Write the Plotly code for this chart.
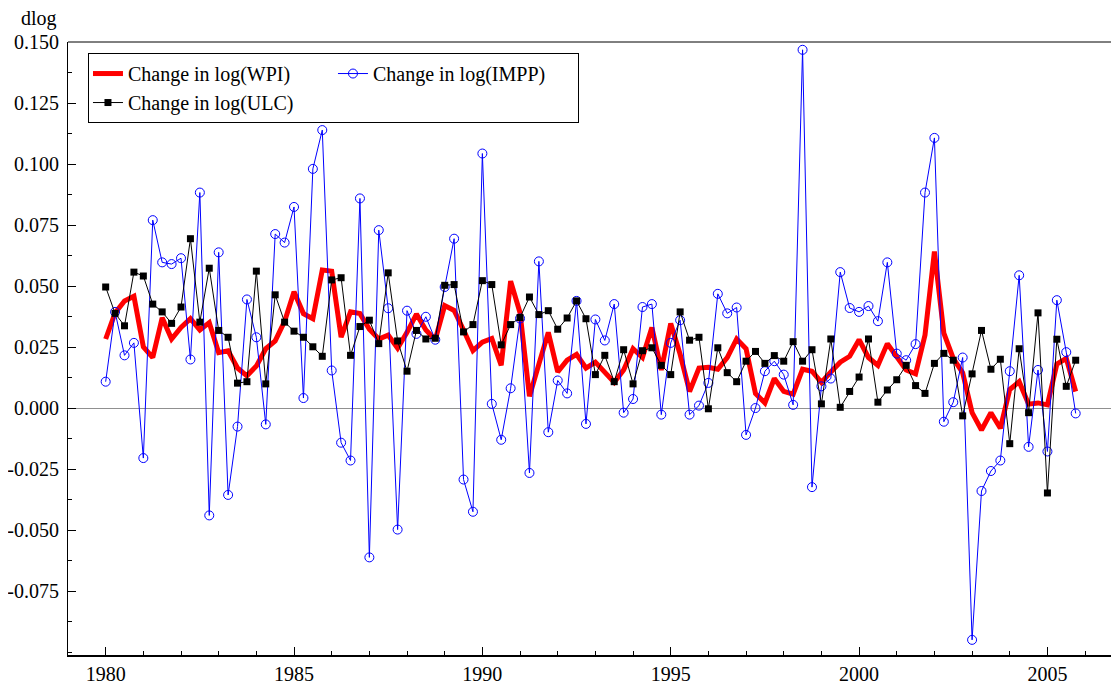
import numpy as np
import plotly.graph_objects as go

start_year = 1980
n_quarters = 104
years = start_year + np.arange(n_quarters) / 4.0

wpi = [0.0283, 0.0390, 0.0439, 0.0458, 0.0251, 0.0207, 0.0370, 0.0283, 0.0330, 0.0366,
       0.0320, 0.0350, 0.0227, 0.0235, 0.0164, 0.0132, 0.0172, 0.0243, 0.0275, 0.0355,
       0.0477, 0.0387, 0.0366, 0.0566, 0.0561, 0.0291, 0.0394, 0.0387, 0.0323, 0.0283,
       0.0299, 0.0245, 0.0310, 0.0385, 0.0320, 0.0280, 0.0420, 0.0400, 0.0320, 0.0235,
       0.0270, 0.0285, 0.0175, 0.0520, 0.0390, 0.0048, 0.0180, 0.0310, 0.0148, 0.0196,
       0.0220, 0.0164, 0.0188, 0.0148, 0.0105, 0.0156, 0.0243, 0.0207, 0.0330, 0.0156,
       0.0347, 0.0220, 0.0068, 0.0164, 0.0167, 0.0159, 0.0207, 0.0283, 0.0243, 0.0060,
       0.0021, 0.0121, 0.0068, 0.0057, 0.0159, 0.0151, 0.0105, 0.0148, 0.0188, 0.0212,
       0.0280, 0.0207, 0.0175, 0.0264, 0.0212, 0.0156, 0.0140, 0.0299, 0.0641, 0.0307,
       0.0204, 0.0145, -0.0019, -0.0090, -0.0019, -0.0083, 0.0076, 0.0108, 0.0016, 0.0021,
       0.0013, 0.0180, 0.0204, 0.0068]

impp = [0.0108, 0.0394, 0.0216, 0.0267, -0.0205, 0.0770, 0.0597, 0.0590, 0.0614, 0.0199,
        0.0883, -0.0440, 0.0638, -0.0356, -0.0076, 0.0445, 0.0290, -0.0067, 0.0713, 0.0678,
        0.0824, 0.0041, 0.0980, 0.1139, 0.0154, -0.0142, -0.0215, 0.0859, -0.0612, 0.0729,
        0.0409, -0.0498, 0.0399, 0.0304, 0.0374, 0.0280, 0.0496, 0.0694, -0.0293, -0.0425,
        0.1043, 0.0017, -0.0130, 0.0081, 0.0367, -0.0266, 0.0601, -0.0099, 0.0113, 0.0060,
        0.0439, -0.0065, 0.0363, 0.0277, 0.0426, -0.0019, 0.0037, 0.0414, 0.0426, -0.0027,
        0.0267, 0.0360, -0.0027, 0.0010, 0.0103, 0.0468, 0.0388, 0.0412, -0.0110, 0.0000,
        0.0151, 0.0192, 0.0137, 0.0013, 0.1468, -0.0324, 0.0089, 0.0121, 0.0557, 0.0410,
        0.0394, 0.0418, 0.0356, 0.0597, 0.0223, 0.0196, 0.0262, 0.0883, 0.1107, -0.0056,
        0.0024, 0.0207, -0.0950, -0.0340, -0.0258, -0.0215, 0.0151, 0.0544, -0.0159, 0.0156,
        -0.0178, 0.0442, 0.0229, -0.0022]

ulc = [0.0496, 0.0388, 0.0337, 0.0557, 0.0541, 0.0426, 0.0394, 0.0347, 0.0414, 0.0694,
       0.0352, 0.0573, 0.0318, 0.0290, 0.0102, 0.0108, 0.0561, 0.0099, 0.0464, 0.0352,
       0.0315, 0.0290, 0.0251, 0.0212, 0.0525, 0.0534, 0.0216, 0.0334, 0.0360, 0.0264,
       0.0554, 0.0275, 0.0151, 0.0318, 0.0283, 0.0286, 0.0503, 0.0506, 0.0312, 0.0342,
       0.0522, 0.0506, 0.0259, 0.0342, 0.0371, 0.0455, 0.0383, 0.0399, 0.0323, 0.0369,
       0.0439, 0.0366, 0.0137, 0.0216, 0.0108, 0.0239, 0.0099, 0.0235, 0.0247, 0.0175,
       0.0137, 0.0394, 0.0278, 0.0290, -0.0003, 0.0247, 0.0145, 0.0108, 0.0192, 0.0232,
       0.0183, 0.0215, 0.0192, 0.0272, 0.0192, 0.0239, 0.0017, 0.0283, 0.0003, 0.0068,
       0.0127, 0.0283, 0.0024, 0.0074, 0.0116, 0.0175, 0.0092, 0.0060, 0.0183, 0.0224,
       0.0196, -0.0032, 0.0140, 0.0318, 0.0159, 0.0200, -0.0146, 0.0243, -0.0019, 0.0390,
       -0.0348, 0.0282, 0.0089, 0.0196]

x_tickvals = [1980, 1985, 1990, 1995, 2000, 2005]
y_tickvals = [-0.075, -0.05, -0.025, 0.0, 0.025, 0.05, 0.075, 0.1, 0.125, 0.15]
y_ticktext = ["-0.075", "-0.050", "-0.025", "0.000", "0.025", "0.050", "0.075", "0.100", "0.125", "0.150"]

FONT = "Liberation Serif, Times New Roman, serif"

fig = go.Figure()
fig.add_trace(go.Scatter(x=years, y=wpi, mode="lines", name="Change in log(WPI)",
                         legendgroup="a", line=dict(color="#ff0000", width=5)))
fig.add_trace(go.Scatter(x=years, y=impp, mode="lines+markers", name="Change in log(IMPP)",
                         legendgroup="b", line=dict(color="#0000ff", width=1),
                         marker=dict(symbol="circle-open", size=9, color="#0000ff",
                                     line=dict(width=1, color="#0000ff"))))
fig.add_trace(go.Scatter(x=years, y=ulc, mode="lines+markers", name="Change in log(ULC)",
                         legendgroup="a", line=dict(color="#000000", width=1),
                         marker=dict(symbol="square", size=7, color="#000000")))

# page body has an 8px margin, so the figure is 8px smaller than the window
fig.update_layout(
    width=1111, height=676,
    margin=dict(l=60, r=0, t=34, b=29, autoexpand=False),
    paper_bgcolor="white", plot_bgcolor="white",
    font=dict(family=FONT, size=20, color="black"),
    showlegend=True,
    legend=dict(orientation="h", traceorder="grouped", x=0.019, y=0.982,
                xanchor="left", yanchor="top", bgcolor="white",
                bordercolor="black", borderwidth=1, tracegroupgap=10,
                entrywidth=200, entrywidthmode="pixels",
                font=dict(family=FONT, size=20, color="black")),
    annotations=[dict(text="dlog", xref="paper", yref="paper", x=-0.047, y=1.039,
                      xanchor="left", yanchor="middle", showarrow=False,
                      font=dict(family=FONT, size=20, color="black"))],
    shapes=[dict(type="line", xref="paper", yref="paper", x0=0, x1=1, y0=1, y1=1,
                 line=dict(color="black", width=1))],
)

fig.update_xaxes(range=[1979.0, 2006.9], showgrid=False, zeroline=False, automargin=False,
                 showline=True, linecolor="black", linewidth=2,
                 tickmode="array", tickvals=x_tickvals, ticks="inside", ticklen=8,
                 tickcolor="black", tickwidth=1,
                 minor=dict(dtick=1, ticks="inside", ticklen=4, tickcolor="black", showgrid=False),
                 tickfont=dict(family=FONT, size=20))
fig.update_yaxes(range=[-0.1012, 0.150], showgrid=False, automargin=False,
                 zeroline=True, zerolinecolor="#909090", zerolinewidth=1,
                 showline=True, linecolor="black", linewidth=1,
                 tickmode="array", tickvals=y_tickvals, ticktext=y_ticktext,
                 ticks="inside", ticklen=8, tickcolor="black", tickwidth=1,
                 minor=dict(dtick=0.0125, tick0=0, ticks="inside", ticklen=4,
                            tickcolor="black", showgrid=False),
                 ticklabelstandoff=4,
                 tickfont=dict(family=FONT, size=20))

fig.write_html("out.html")
